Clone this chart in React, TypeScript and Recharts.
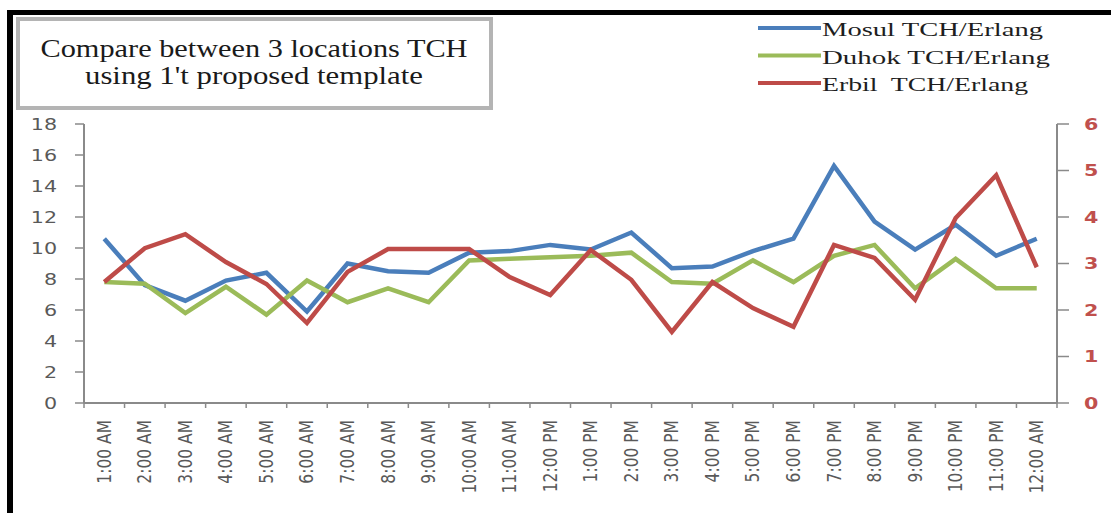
import React from 'react';
import { LineChart, Line, XAxis, YAxis, Legend } from 'recharts';

const hours = [
  '1:00 AM', '2:00 AM', '3:00 AM', '4:00 AM', '5:00 AM', '6:00 AM', '7:00 AM', '8:00 AM',
  '9:00 AM', '10:00 AM', '11:00 AM', '12:00 PM', '1:00 PM', '2:00 PM', '3:00 PM', '4:00 PM',
  '5:00 PM', '6:00 PM', '7:00 PM', '8:00 PM', '9:00 PM', '10:00 PM', '11:00 PM', '12:00 AM',
];
const mosul = [10.6, 7.6, 6.6, 7.9, 8.4, 5.9, 9.0, 8.5, 8.4, 9.7, 9.8, 10.2, 9.9, 11.0, 8.7, 8.8, 9.8, 10.6, 15.3, 11.7, 9.9, 11.5, 9.5, 10.6];
const duhok = [7.8, 7.7, 5.8, 7.5, 5.7, 7.9, 6.5, 7.4, 6.5, 9.2, 9.3, 9.4, 9.5, 9.7, 7.8, 7.7, 9.2, 7.8, 9.5, 10.2, 7.4, 9.3, 7.4, 7.4];
const erbil = [2.6, 3.33, 3.63, 3.03, 2.56, 1.72, 2.82, 3.31, 3.31, 3.31, 2.71, 2.32, 3.29, 2.65, 1.53, 2.6, 2.04, 1.64, 3.4, 3.12, 2.22, 3.98, 4.9, 2.92];
const leftTicks = [0, 2, 4, 6, 8, 10, 12, 14, 16, 18];
const rightTicks = [0, 1, 2, 3, 4, 5, 6];
const seriesNames = ['Mosul TCH/Erlang', 'Duhok TCH/Erlang', 'Erbil  TCH/Erlang'];
const titleLines = ['Compare between 3 locations TCH', "using 1't proposed template"];

const data = hours.map((h, i) => ({ hour: h, mosul: mosul[i], duhok: duhok[i], erbil: erbil[i] }));

const BLUE = '#4A7EBB';
const GREEN = '#9BBB59';
const RED = '#BE4B48';
const AXIS = '#8A8A8A';
const LABEL = '#595959';

const XTick = (props: any) => {
  const { x, y, payload, index, visibleTicksCount } = props;
  const off = payload && payload.offset ? payload.offset : 0;
  const top = y - 17;
  const bottom = y - 12;
  return (
    <g>
      <line x1={x - off} x2={x - off} y1={top} y2={bottom} stroke={AXIS} strokeWidth={1.5} />
      {index === visibleTicksCount - 1 ? (
        <line x1={x + off} x2={x + off} y1={top} y2={bottom} stroke={AXIS} strokeWidth={1.5} />
      ) : null}
      <g transform={`translate(${x}, ${y}) rotate(-90) scale(1, 1.2)`}>
        <text
          x={0}
          y={0}
          textAnchor="end"
          dominantBaseline="central"
          fontSize={15.5}
          fontFamily="DejaVu Sans"
          fill={LABEL}
        >
          {payload.value}
        </text>
      </g>
    </g>
  );
};

const YTick = (props: any) => {
  const { x, y, payload, textAnchor, fill, fontWeight } = props;
  return (
    <g transform={`translate(${x}, ${y}) scale(1.25, 1)`}>
      <text x={0} y={0} dy="0.36em" textAnchor={textAnchor} fontSize={16.5} fontFamily="DejaVu Sans" fill={fill} fontWeight={fontWeight}>
        {payload.value}
      </text>
    </g>
  );
};

const legendColors = [BLUE, GREEN, RED];
const legendTextLen = [221, 228, 206];

const LegendContent = () => (
  <svg width={353} height={100}>
    {seriesNames.map((name, i) => {
      const cy = 28 + i * 27.5;
      return (
        <g key={name}>
          <line x1={0} x2={63} y1={cy} y2={cy} stroke={legendColors[i]} strokeWidth={4} />
          <text
            x={64}
            y={cy + 8}
            fontSize={18.5}
            fontFamily="Liberation Serif"
            fill="#1E1E1E"
            textLength={legendTextLen[i]}
            lengthAdjust="spacingAndGlyphs"
            style={{ whiteSpace: 'pre' }}
          >
            {name}
          </text>
        </g>
      );
    })}
  </svg>
);

export default function App() {
  return (
    <div style={{ position: 'absolute', left: 0, top: 0, width: 1111, height: 513, background: '#fff', overflow: 'hidden' }}>
      <div
        style={{
          position: 'absolute', left: 7, top: 10, width: 1111, height: 513,
          borderTop: '5px solid #000', borderLeft: '6px solid #000', boxSizing: 'border-box',
        }}
      />
      <div style={{ position: 'absolute', left: 0, top: 0 }}>
        <LineChart width={1111} height={513} data={data} margin={{ top: 124, right: 0, bottom: 0, left: 34 }}>
          <XAxis
            dataKey="hour"
            scale="band"
            interval={0}
            height={110}
            tickSize={5}
            tickMargin={12}
            tickLine={false}
            axisLine={{ stroke: AXIS, strokeWidth: 2 }}
            tick={<XTick />}
          />
          <YAxis
            yAxisId="left"
            domain={[0, 18]}
            ticks={leftTicks}
            width={50}
            tickSize={9}
            tickMargin={18}
            axisLine={{ stroke: AXIS, strokeWidth: 2 }}
            tickLine={{ stroke: AXIS, strokeWidth: 1.5 }}
            tick={<YTick fill={LABEL} />}
          />
          <YAxis
            yAxisId="right"
            orientation="right"
            domain={[0, 6]}
            ticks={rightTicks}
            width={54}
            tickSize={12}
            tickMargin={15}
            axisLine={{ stroke: AXIS, strokeWidth: 2 }}
            tickLine={{ stroke: AXIS, strokeWidth: 1.5 }}
            tick={<YTick fill="#C0504D" fontWeight="bold" />}
          />
          <Legend
            layout="horizontal"
            verticalAlign="middle"
            align="center"
            wrapperStyle={{ left: 758, top: 0, width: 353, height: 100 }}
            content={<LegendContent />}
          />
          <Line yAxisId="left" type="linear" dataKey="mosul" name={seriesNames[0]} stroke={BLUE} strokeWidth={4.5} dot={false} isAnimationActive={false} />
          <Line yAxisId="left" type="linear" dataKey="duhok" name={seriesNames[1]} stroke={GREEN} strokeWidth={4.5} dot={false} isAnimationActive={false} />
          <Line yAxisId="right" type="linear" dataKey="erbil" name={seriesNames[2]} stroke={RED} strokeWidth={4.5} dot={false} isAnimationActive={false} />
        </LineChart>
      </div>
      <svg width={1111} height={513} style={{ position: 'absolute', left: 0, top: 0, pointerEvents: 'none' }}>
        <rect x={18} y={19} width={473} height={89} fill="#fff" stroke="#B4B4B4" strokeWidth={4} />
        <text x={254} y={57} textAnchor="middle" fontSize={26} fontFamily="Liberation Serif" fill="#1A1A1A" textLength={427} lengthAdjust="spacingAndGlyphs">
          {titleLines[0]}
        </text>
        <text x={254} y={84} textAnchor="middle" fontSize={26} fontFamily="Liberation Serif" fill="#1A1A1A" textLength={338} lengthAdjust="spacingAndGlyphs">
          {titleLines[1]}
        </text>
      </svg>
    </div>
  );
}
